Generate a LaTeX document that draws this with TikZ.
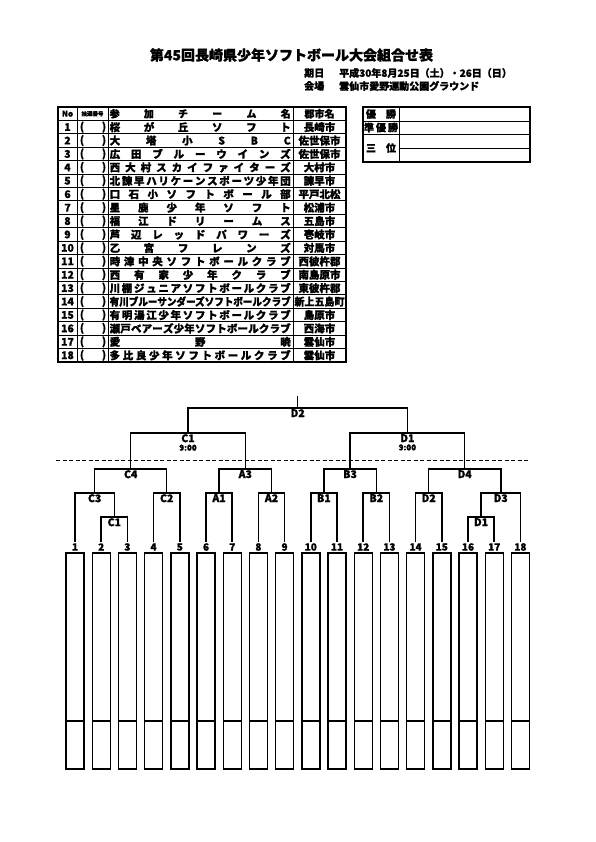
\documentclass[tikz,border=0pt]{standalone}
\usepackage{fontspec}
\setmainfont{Noto Sans CJK JP}[BoldFeatures={FakeBold=1.2}]
\usepackage{graphicx}
\usetikzlibrary{positioning}

\newlength\natw
\def\spreadloop#1{\ifx#1\relax\else#1\hfil\expandafter\spreadloop\fi}
\newcommand\spreadtxt[2]{\settowidth\natw{#2}\ifdim\natw>#1\relax\resizebox{#1}{\height}{#2}\else\makebox[#1][s]{\expandafter\spreadloop#2\relax\unskip}\fi}
\newcommand\fitw[2]{\settowidth\natw{#2}\ifdim\natw>#1\relax\resizebox{#1}{\height}{#2}\else#2\fi}

\begin{document}
\begin{tikzpicture}[x=1pt,y=-1pt,
  bk/.style={line width=1.5pt},
  tline/.style={line width=0.9pt},
  frame/.style={line width=1.5pt},
  tx/.style={font=\bfseries\fontsize{10.5}{11}\selectfont, inner sep=0pt},
  hd/.style={font=\bfseries\fontsize{10}{11}\selectfont, inner sep=0pt},
  num/.style={font=\bfseries\fontsize{10}{10}\selectfont, inner sep=1pt},
  mlab/.style={below, font=\bfseries\fontsize{10.5}{11}\selectfont, inner sep=1pt},
  box/.style={line width=1.4pt}]
\useasboundingbox (0,0) rectangle (595,842);
\fill[white] (0,0) rectangle (595,842);
\node[font=\bfseries\fontsize{14}{14}\selectfont] (title) at (291.5,55) {第45回長崎県少年ソフトボール大会組合せ表};
\node[hd, anchor=west] (kijitsu) at (304,73) {期日};
\node[hd, anchor=west] (date) at (339,73) {平成30年8月25日（土）・26日（日）};
\node[hd, anchor=west] (kaijo) at (304,86) {会場};
\node[hd, anchor=west] (place) at (339,86) {雲仙市愛野運動公園グラウンド};
\draw[frame] (58,107) rectangle (346,362);
\foreach \r in {1,...,18} \draw[tline] (58,{107+13.42*\r}) -- (346,{107+13.42*\r});
\foreach \x in {77,108,293} \draw[tline] (\x,107) -- (\x,362);
\node[hd] (hno) at (67.5,113.7) {\fontsize{8}{8}\selectfont No};
\node[font=\bfseries\fontsize{5.5}{6}\selectfont, inner sep=0pt] (hlot) at (92.5,113.7) {抽選番号};
\node[hd, anchor=west] (hteam) at (109.5,113.7) {\spreadtxt{181pt}{参加チーム名}};
\node[hd] (hcity) at (319.5,113.7) {郡市名};
\foreach \n/\team/\city in {1/桜が丘ソフト/長崎市,2/大塔小SBC/佐世保市,3/広田ブルーウインズ/佐世保市,4/西大村スカイファイターズ/大村市,5/北諫早ハリケーンスポーツ少年団/諫早市,6/口石小ソフトボール部/平戸北松,7/星鹿少年ソフト/松浦市,8/福江ドリームス/五島市,9/芦辺レッドパワーズ/壱岐市,10/乙宮フレンズ/対馬市,11/時津中央ソフトボールクラブ/西彼杵郡,12/西有家少年クラブ/南島原市,13/川棚ジュニアソフトボールクラブ/東彼杵郡,14/有川ブルーサンダーズソフトボールクラブ/新上五島町,15/有明湯江少年ソフトボールクラブ/島原市,16/瀬戸ベアーズ少年ソフトボールクラブ/西海市,17/愛野暁/雲仙市,18/多比良少年ソフトボールクラブ/雲仙市}{
  \node[tx] (no\n) at (67.5,{113.7+13.42*\n}) {\n};
  \node[tx] at (82,{113.7+13.42*\n}) {(};
  \node[tx] at (104,{113.7+13.42*\n}) {)};
  \node[tx, anchor=west] (tm\n) at (109.5,{113.7+13.42*\n}) {\spreadtxt{181pt}{\team}};
  \node[tx] (ct\n) at (319.5,{113.7+13.42*\n}) {\fitw{50pt}{\city}};
}
\draw[frame] (363,107) rectangle (530,162);
\draw[tline] (399,107) -- (399,162);
\foreach \yy in {121,134} \draw[tline] (363,\yy) -- (530,\yy);
\draw[tline] (399,148) -- (530,148);
\node[hd] (win) at (381,114) {\spreadtxt{30pt}{優勝}};
\node[hd] (second) at (381,127.5) {\spreadtxt{34pt}{準優勝}};
\node[hd] (third) at (381,148) {\spreadtxt{30pt}{三位}};
\foreach \i in {1,...,18}{
  \node[num] (t\i) at ({75+26.2*(\i-1)},547) {\i};
  \draw[box] ({75+26.2*(\i-1)-9},553) rectangle +(18,216);
  \draw[box] ({75+26.2*(\i-1)-9},721) -- +(18,0);
}
\coordinate (c1b) at (114.3,517);
\coordinate (c3) at (94.65,493);
\coordinate (c2) at (166.7,493);
\coordinate (a1) at (219.1,493);
\coordinate (a2) at (271.5,493);
\coordinate (b1) at (323.9,493);
\coordinate (b2) at (376.3,493);
\coordinate (d2b) at (428.7,493);
\coordinate (d1b) at (481.1,517);
\coordinate (d3) at (500.75,493);
\coordinate (c4) at (130.7,469);
\coordinate (a3) at (245.3,469);
\coordinate (b3) at (350.1,469);
\coordinate (d4) at (464.7,469);
\coordinate (c1a) at (188,433);
\coordinate (d1a) at (407.4,433);
\coordinate (d2a) at (297.7,408);
\coordinate (top) at (297.7,396);
\foreach \a/\m/\b in {t2.north/c1b/t3.north,t1.north/c3/c1b,t4.north/c2/t5.north,t6.north/a1/t7.north,t8.north/a2/t9.north,t10.north/b1/t11.north,t12.north/b2/t13.north,t14.north/d2b/t15.north,t16.north/d1b/t17.north,d1b/d3/t18.north,c3/c4/c2,a1/a3/a2,b1/b3/b2,d2b/d4/d3,c4/c1a/a3,b3/d1a/d4,c1a/d2a/d1a}
  \draw[bk] (\a) |- (\m) -| (\b);
\draw[tline] (d2a) -- (top);
\foreach \m/\lab in {c1b/C1,c3/C3,c2/C2,a1/A1,a2/A2,b1/B1,b2/B2,d2b/D2,d1b/D1,d3/D3,c4/C4,a3/A3,b3/B3,d4/D4,c1a/C1,d1a/D1,d2a/D2}
  \node[mlab] (l\m) at (\m) {\lab};
\node[below=1pt of lc1a, font=\bfseries\fontsize{8}{8}\selectfont, inner sep=0pt] (tc1a) {9:00};
\node[below=1pt of ld1a, font=\bfseries\fontsize{8}{8}\selectfont, inner sep=0pt] (td1a) {9:00};
\coordinate (dl) at (56,460);
\coordinate (dr) at (528,460);
\draw[line width=1pt, dash pattern=on 4pt off 2.5pt] (dl) -- (dr);
\end{tikzpicture}
\end{document}
